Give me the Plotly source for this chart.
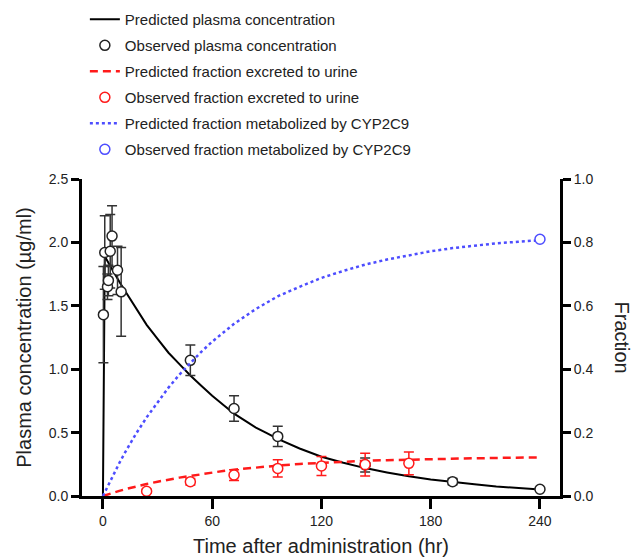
import plotly.graph_objects as go

# ---- Plasma concentration (µg/ml) ----
pred_time = [0, 1, 3, 6, 9, 12, 18, 24, 30, 36, 42, 48, 54, 60, 66, 72, 78, 84, 90, 96,
             108, 120, 132, 144, 156, 168, 180, 192, 204, 216, 228, 240]
pred_conc = [0, 1.89, 1.84, 1.76, 1.69, 1.62, 1.48, 1.35, 1.24, 1.13, 1.04, 0.95, 0.87,
             0.79, 0.72, 0.65, 0.595, 0.54, 0.495, 0.45, 0.375, 0.31, 0.262, 0.22, 0.186,
             0.155, 0.131, 0.11, 0.092, 0.075, 0.062, 0.052]

obs_time = [0.25, 1, 2.5, 3, 4, 5, 8, 10, 48, 72, 96, 144, 192, 240]
obs_conc = [1.43, 1.92, 1.65, 1.70, 1.93, 2.05, 1.78, 1.61, 1.07, 0.69, 0.47, 0.245, 0.113, 0.053]
obs_sd = [0.38, 0.29, 0.10, 0.12, 0.29, 0.24, 0.19, 0.35, 0.12, 0.10, 0.08, 0.055, 0.025, 0.008]

# ---- Fractions (right axis) ----
frac_time = [0, 3, 6, 9, 12, 18, 24, 30, 36, 42, 48, 54, 60, 66, 72, 84, 96, 108, 120,
             132, 144, 156, 168, 180, 192, 204, 216, 228, 240]
pred_urine = [0, 0.006, 0.011, 0.016, 0.021, 0.030, 0.038, 0.045, 0.052, 0.058, 0.063,
              0.069, 0.074, 0.079, 0.083, 0.090, 0.096, 0.101, 0.105, 0.108, 0.111,
              0.113, 0.115, 0.117, 0.118, 0.119, 0.120, 0.121, 0.122]
pred_cyp = [0, 0.036, 0.071, 0.104, 0.136, 0.195, 0.248, 0.297, 0.342, 0.383, 0.42,
            0.455, 0.487, 0.516, 0.543, 0.59, 0.63, 0.66, 0.688, 0.71, 0.73, 0.746,
            0.76, 0.772, 0.782, 0.79, 0.797, 0.802, 0.807]

obs_urine_time = [24, 48, 72, 96, 120, 144, 168]
obs_urine = [0.015, 0.045, 0.066, 0.087, 0.095, 0.099, 0.103]
obs_urine_sd = [0.006, 0.010, 0.017, 0.027, 0.030, 0.036, 0.036]

obs_cyp_time = [240]
obs_cyp = [0.81]

x_ticks = [0, 60, 120, 180, 240]

FONT = "Liberation Sans, Arial, sans-serif"
TXT = "#222222"
RED = "#ff1a1a"
BLUE = "#4d4dff"

fig = go.Figure()

fig.add_trace(go.Scatter(
    x=pred_time, y=pred_conc, mode="lines", name="Predicted plasma concentration",
    line=dict(color="black", width=2), legendgroup="g1"))
fig.add_trace(go.Scatter(
    x=obs_time, y=obs_conc, mode="markers", name="Observed plasma concentration",
    marker=dict(symbol="circle", size=10, color="white", line=dict(color="#222", width=1.5)),
    error_y=dict(type="data", array=obs_sd, color="#333", thickness=1.5, width=5),
    legendgroup="g2"))
fig.add_trace(go.Scatter(
    x=frac_time, y=pred_urine, mode="lines", name="Predicted fraction excreted to urine",
    line=dict(color=RED, width=2.5, dash="8px,5px"), yaxis="y2", legendgroup="g3"))
fig.add_trace(go.Scatter(
    x=obs_urine_time, y=obs_urine, mode="markers", name="Observed fraction excreted to urine",
    marker=dict(symbol="circle", size=10, color="white", line=dict(color=RED, width=1.5)),
    error_y=dict(type="data", array=obs_urine_sd, color=RED, thickness=1.5, width=5),
    yaxis="y2", legendgroup="g4"))
fig.add_trace(go.Scatter(
    x=frac_time, y=pred_cyp, mode="lines", name="Predicted fraction metabolized by CYP2C9",
    line=dict(color=BLUE, width=2.5, dash="dot"), yaxis="y2", legendgroup="g5"))
fig.add_trace(go.Scatter(
    x=obs_cyp_time, y=obs_cyp, mode="markers", name="Observed fraction metabolized by CYP2C9",
    marker=dict(symbol="circle", size=10, color="white", line=dict(color=BLUE, width=1.5)),
    yaxis="y2", legendgroup="g6"))

axis_common = dict(
    showline=True, linecolor="black", linewidth=3, ticks="outside",
    tickcolor="black", tickwidth=2.5, showgrid=False, zeroline=False,
    automargin=False,
    tickfont=dict(family=FONT, size=14, color=TXT),
)

fig.update_layout(
    width=631, height=560,
    margin=dict(l=82, r=71, t=179, b=64, autoexpand=False),
    plot_bgcolor="white", paper_bgcolor="white",
    font=dict(family=FONT, color=TXT),
    showlegend=True,
    legend=dict(
        x=0.006, y=1.555, xanchor="left", yanchor="top",
        font=dict(family=FONT, size=15, color=TXT),
        tracegroupgap=3.5, traceorder="grouped", bgcolor="rgba(0,0,0,0)",
    ),
    xaxis=dict(
        range=[-11.5, 251], tickvals=x_ticks, ticklen=10,
        title=dict(text="Time after administration (hr)",
                   font=dict(family=FONT, size=20, color=TXT), standoff=12),
        **axis_common),
    yaxis=dict(
        range=[0, 2.5], dtick=0.5, tickformat=".1f", ticklen=8,
        title=dict(text="Plasma concentration (µg/ml)",
                   font=dict(family=FONT, size=20, color=TXT), standoff=12),
        **axis_common),
    yaxis2=dict(
        range=[0, 1], dtick=0.2, tickformat=".1f", ticklen=8,
        overlaying="y", side="right", anchor="x",
        **axis_common),
    annotations=[dict(
        text="Fraction", textangle=90, xref="paper", yref="paper",
        x=1.0, y=0.5, xanchor="center", yanchor="middle", xshift=62, showarrow=False,
        font=dict(family=FONT, size=20, color=TXT))],
)

fig.write_html("out.html")
